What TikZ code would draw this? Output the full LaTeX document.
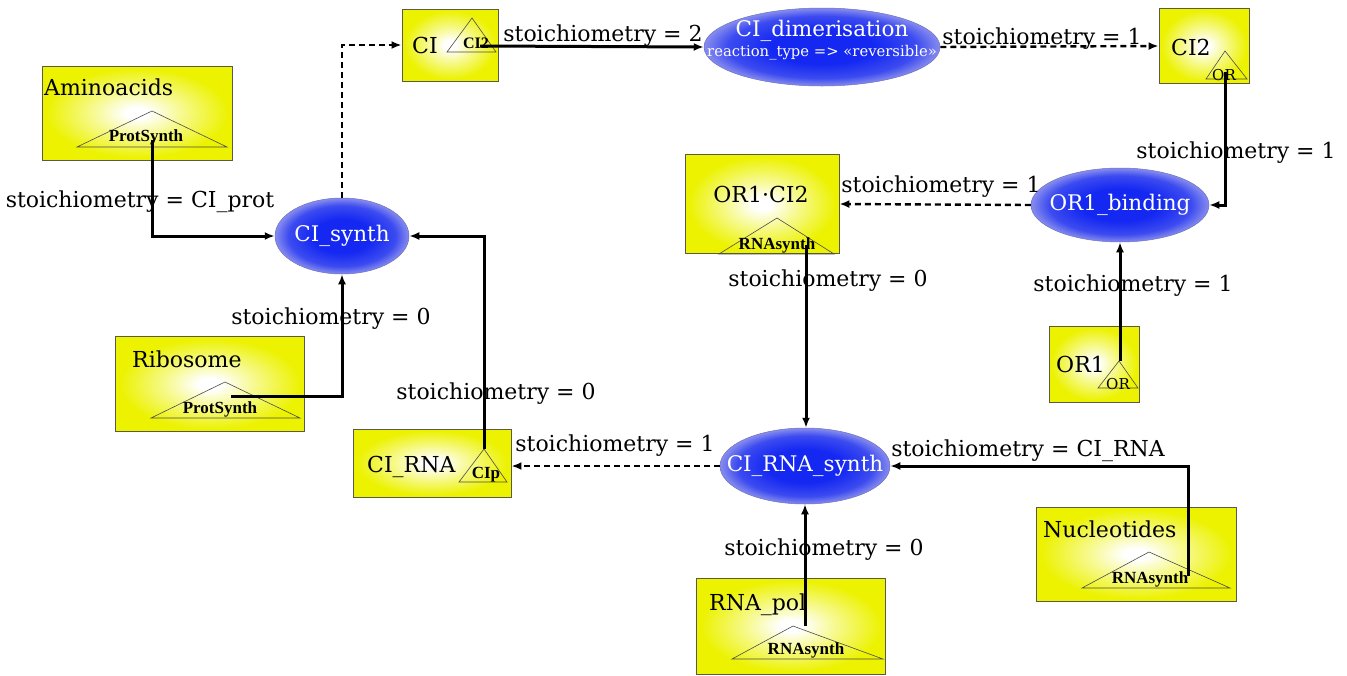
\documentclass[tikz,border=0pt]{standalone}
\usepackage{fontspec}
\setmainfont{DejaVu Serif}
\newfontfamily\trifont{Liberation Serif}
\usetikzlibrary{arrows.meta,shapes.geometric}
\definecolor{ybox}{RGB}{236,242,0}
\definecolor{yedge}{RGB}{90,90,70}
\definecolor{bin}{RGB}{20,40,242}
\definecolor{bmid}{RGB}{60,75,240}
\definecolor{bout}{RGB}{135,140,238}
\pgfdeclareradialshading{rblue}{\pgfpoint{0bp}{0bp}}{color(0bp)=(bin); color(11bp)=(bin); color(20bp)=(bmid); color(25bp)=(bout); color(50bp)=(bout)}
\pgfdeclareradialshading{ryellow}{\pgfpoint{0bp}{0bp}}{color(0bp)=(white); color(3bp)=(white); color(12bp)=(ybox!45!white); color(24bp)=(ybox); color(50bp)=(ybox)}
\begin{document}
\begin{tikzpicture}[x=1pt,y=-1pt,
  species/.style={rectangle, draw=yedge, line width=0.9pt, shading=ryellow, inner sep=0pt},
  reaction/.style={ellipse, draw=bout!80!black, line width=0.5pt, shading=rblue, inner sep=0pt},
  spname/.style={font=\fontsize{22}{26}\selectfont, inner sep=0pt, anchor=base west},
  rname/.style={font=\fontsize{21.5}{25}\selectfont, text=white, inner sep=0pt},
  lab/.style={font=\fontsize{22}{26}\selectfont, inner sep=0pt, anchor=base},
  tri/.style={draw=black!70, line width=0.6pt},
  trilab/.style={font=\trifont\bfseries\fontsize{17}{19}\selectfont, inner sep=0pt, anchor=base},
  orlab/.style={font=\fontsize{15}{17}\selectfont, inner sep=0pt, anchor=base},
  conn/.style={draw=black, line width=3pt, -{Latex[length=10pt,width=8pt]}},
  dconn/.style={draw=black, line width=2.4pt, dash pattern=on 6pt off 4pt, -{Latex[length=10pt,width=8pt]}}
]
\useasboundingbox (0,0) rectangle (1347,675);

% ---------- species boxes ----------
\node[species, minimum width=190pt, minimum height=94pt] (amino) at (137,113) {};
\node[spname] (aminoT) at (44,95) {Aminoacids};
\draw[tri] (152,111) -- (77,147) -- (227,147) -- cycle;
\node[trilab] (aminoL) at (146,141) {ProtSynth};
\coordinate (aminoC) at (152,140);

\node[species, minimum width=96pt, minimum height=72pt] (ci) at (450,45) {};
\node[spname] (ciT) at (412,53) {CI};
\draw[tri] (472,18) -- (447,52) -- (496,52) -- cycle;
\node[trilab, font=\trifont\bfseries\fontsize{16}{18}\selectfont] (ciL) at (476,48) {CI2};
\coordinate (ciC) at (480,46);

\node[reaction, minimum width=236pt, minimum height=78pt] (dimer) at (822,47) {};
\node[rname] (dimerT) at (822,31) {CI\_dimerisation};
\node[font=\fontsize{14.8}{17}\selectfont, text=white, inner sep=0pt] (dimerS) at (822,53) {reaction\_type => «reversible»};

\node[species, minimum width=90pt, minimum height=75pt] (ci2) at (1204,46) {};
\node[spname] (ci2T) at (1171,55) {CI2};
\draw[tri] (1225,51) -- (1206,79) -- (1247,79) -- cycle;
\node[orlab] (ci2L) at (1224,80) {OR};
\coordinate (ci2C) at (1225,72);

\node[species, minimum width=154pt, minimum height=99pt] (orci) at (762,204) {};
\node[spname, anchor=base] (orciT) at (761,202) {OR1·CI2};
\draw[tri] (777,218) -- (719,254) -- (834,254) -- cycle;
\node[trilab] (orciL) at (777,249) {RNAsynth};
\coordinate (orciC) at (806,245);

\node[reaction, minimum width=178pt, minimum height=74pt] (orb) at (1120,205) {};
\node[rname] (orbT) at (1120,205) {OR1\_binding};

\node[reaction, minimum width=134pt, minimum height=76pt] (synth) at (342,236) {};
\node[rname] (synthT) at (342,236) {CI\_synth};

\node[species, minimum width=90pt, minimum height=76pt] (or1) at (1094,364) {};
\node[spname] (or1T) at (1056,372) {OR1};
\draw[tri] (1119,361) -- (1098,388) -- (1138,388) -- cycle;
\node[orlab] (or1L) at (1118,389) {OR};
\coordinate (or1C) at (1120,361);

\node[species, minimum width=189pt, minimum height=95pt] (ribo) at (210,384) {};
\node[spname] (riboT) at (132,367) {Ribosome};
\draw[tri] (225,382) -- (151,418) -- (300,418) -- cycle;
\node[trilab] (riboL) at (220,413) {ProtSynth};
\coordinate (riboC) at (231,396);

\node[species, minimum width=158pt, minimum height=68pt] (cirna) at (432,463) {};
\node[spname] (cirnaT) at (367,472) {CI\_RNA};
\draw[tri] (484,449) -- (459,482) -- (507,482) -- cycle;
\node[trilab] (cirnaL) at (486,478) {CIp};
\coordinate (cirnaC) at (484,449);

\node[reaction, minimum width=170pt, minimum height=76pt] (rsynth) at (805,466) {};
\node[rname] (rsynthT) at (805,466) {CI\_RNA\_synth};

\node[species, minimum width=200pt, minimum height=94pt] (nuc) at (1136,554) {};
\node[spname] (nucT) at (1043,537) {Nucleotides};
\draw[tri] (1149,552) -- (1082,588) -- (1230,588) -- cycle;
\node[trilab] (nucL) at (1150,583) {RNAsynth};
\coordinate (nucC) at (1188,576);

\node[species, minimum width=189pt, minimum height=96pt] (pol) at (791,626) {};
\node[spname] (polT) at (709,610) {RNA\_pol};
\draw[tri] (793,626) -- (732,659) -- (883,659) -- cycle;
\node[trilab] (polL) at (806,654) {RNAsynth};
\coordinate (polC) at (805,626);

% ---------- connectors ----------
\draw[conn] (aminoC) |- (synth.west);
\draw[conn] (riboC) -| (synth.south);
\draw[conn] (cirnaC) |- (synth.east);
\draw[dconn] (synth.north) |- (ci.west);
\draw[conn] (ciC) -- (dimer.west);
\draw[dconn] (dimer.east) -- (ci2.west);
\draw[conn] (ci2C) |- (orb.east);
\draw[dconn] (orb.west) -- (orci.east);
\draw[conn] (or1C) -- (orb.south);
\draw[conn] (orciC) -- (orciC |- rsynth.north);
\draw[dconn] (rsynth.west) -- (rsynth.west -| cirna.east);
\draw[conn] (polC) -- (rsynth.south);
\draw[conn] (nucC) |- (rsynth.east);

% ---------- labels ----------
\node[lab] (l1) at (140,207) {stoichiometry = CI\_prot};
\node[lab] (l2) at (331,324) {stoichiometry = 0};
\node[lab] (l3) at (496,399) {stoichiometry = 0};
\node[lab] (l4) at (603,41) {stoichiometry = 2};
\node[lab] (l5) at (1042,44) {stoichiometry = 1};
\node[lab] (l6) at (1236,158) {stoichiometry = 1};
\node[lab] (l7) at (941,192) {stoichiometry = 1};
\node[lab] (l8) at (1133,291) {stoichiometry = 1};
\node[lab] (l9) at (828,286) {stoichiometry = 0};
\node[lab] (l10) at (615,451) {stoichiometry = 1};
\node[lab] (l11) at (1028,456) {stoichiometry = CI\_RNA};
\node[lab] (l12) at (824,555) {stoichiometry = 0};
\end{tikzpicture}
\end{document}
